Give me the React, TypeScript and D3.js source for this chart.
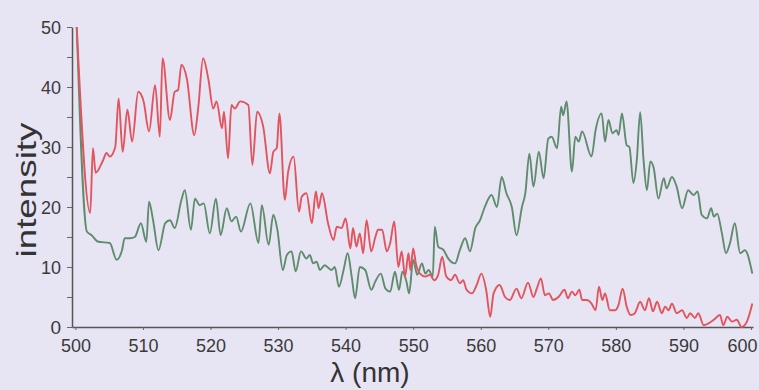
import React, { useEffect, useRef } from 'react';
import * as d3 from 'd3';

// emission spectra (wavelength in nm, intensity)
const redWavelength = [
  500.2, 502.2, 502.6, 503.0, 504.1, 504.6, 505.1, 505.9, 506.4, 507.0, 507.7, 508.4, 509.3, 510.1,
  510.9, 511.8, 512.5, 512.9, 514.0, 514.7, 515.2, 515.7, 516.5, 517.6, 518.2, 518.9, 519.7, 520.4,
  520.9, 521.7, 522.0, 522.6, 523.1, 523.6, 524.4, 525.6, 526.2, 526.9, 527.8, 528.8, 529.3, 529.8,
  530.2, 531.0, 531.5, 532.3, 533.1, 533.5, 534.2, 535.0, 535.6, 536.0, 536.5, 537.4, 538.2, 538.7,
  539.4, 540.0, 540.7, 541.1, 541.6, 542.1, 542.6, 543.1, 543.8, 544.4, 544.8, 545.4, 546.1, 546.6,
  547.2, 547.8, 548.3, 548.8, 549.3, 549.6, 550.0, 550.4, 551.0, 551.8, 552.5, 553.1, 553.7, 554.3,
  554.9, 555.6, 556.2, 556.9, 557.4, 557.9, 558.7, 559.4, 560.1, 560.8, 561.4, 561.9, 562.8, 563.6,
  564.3, 565.3, 566.0, 567.0, 567.8, 568.3, 568.9, 569.5, 570.1, 570.7, 571.5, 572.4, 572.9, 573.5,
  574.0, 574.6, 575.0, 575.7, 576.4, 577.0, 577.5, 578.0, 578.4, 579.1, 579.9, 580.4, 581.0, 581.6,
  582.2, 582.8, 583.6, 584.3, 584.9, 585.5, 586.1, 586.8, 587.3, 587.8, 588.3, 589.0, 589.8, 590.5,
  591.0, 591.7, 592.2, 593.0, 593.7, 594.5, 595.4, 595.9, 596.5, 597.2, 597.9, 598.6, 599.4, 600.2
];
const redIntensity = [
  50, 19, 29.8, 25.7, 27.8, 29, 28.4, 30, 38.1, 29.2, 36.2, 30.9, 39.2, 37.6,
  32.6, 40.3, 31.7, 44.8, 34.5, 39.2, 39.5, 43.7, 41.4, 32, 36.7, 44.8, 41.2, 36.4,
  37.6, 33.1, 35.9, 28.1, 37, 36.4, 37.6, 37, 27, 35.9, 33.4, 25.6, 29.2, 29.8,
  35.6, 21.2, 25.9, 28.4, 19.2, 21.7, 22.3, 17.3, 22.6, 19.8, 22.3, 17.3, 14.5, 16.7,
  16.5, 18.1, 13.1, 16.5, 13.4, 15.6, 12.3, 17.8, 12.6, 15, 16.2, 16.2, 12.6, 14,
  17.6, 10, 12.6, 8.4, 12.3, 9.5, 13.1, 10.6, 8.9, 8.4, 8.7, 7.8, 8.7, 11.7,
  8.4, 7.8, 8.7, 7.3, 7.8, 6.2, 5.6, 7, 8.9, 6.2, 1.7, 5.6, 7, 5,
  4.5, 6.4, 4.8, 7.4, 5, 6.4, 8.1, 5.3, 5.6, 4.5, 5, 6.2, 4.8, 5.9,
  5.3, 6.2, 4.5, 4.5, 3.9, 2.8, 6.7, 4.5, 5.6, 2.8, 2.8, 3.7, 6.4, 3.4,
  2, 2.3, 4.2, 2.8, 4.8, 2.6, 4.2, 2.3, 3.4, 2.8, 3.9, 2.3, 2.8, 1.5,
  2.3, 1.5, 2.3, 0.3, 0.6, 1.2, 2, 0.3, 1.7, 0.9, 1.2, 0, 0.9, 3.9
];

const greenWavelength = [
  500.2, 501.7, 502.4, 503.4, 505.1, 506.1, 506.9, 507.3, 508.1, 508.8, 509.7, 510.5, 510.9, 511.5,
  512.3, 513.3, 514.0, 514.7, 515.7, 516.2, 517.1, 517.7, 518.4, 519.0, 519.9, 520.8, 521.5, 522.4,
  523.1, 523.8, 524.5, 525.9, 527.1, 527.6, 528.6, 529.3, 529.9, 530.7, 531.3, 532.0, 532.6, 533.4,
  534.2, 534.7, 535.2, 535.7, 536.2, 536.9, 537.9, 538.4, 539.0, 539.7, 540.3, 540.9, 541.4, 542.1,
  542.9, 543.8, 544.4, 545.2, 545.9, 546.6, 547.3, 547.9, 548.4, 549.0, 549.4, 550.0, 550.6, 551.3,
  551.8, 552.3, 552.9, 553.2, 553.7, 554.5, 555.2, 556.2, 556.9, 557.7, 558.4, 559.2, 559.9, 560.6,
  561.6, 562.4, 563.1, 563.8, 564.6, 565.3, 566.1, 566.6, 567.2, 567.8, 568.6, 569.3, 570.0, 570.5,
  571.3, 571.9, 572.2, 572.7, 573.5, 574.0, 574.5, 575.0, 576.4, 577.0, 577.9, 578.4, 578.9, 579.5,
  580.1, 580.4, 580.9, 581.6, 582.0, 582.6, 583.1, 583.6, 584.1, 584.6, 585.1, 585.6, 586.3, 587.1,
  587.5, 588.3, 589.0, 589.8, 590.7, 591.5, 592.1, 592.7, 593.5, 594.1, 594.5, 595.0, 595.7, 596.3,
  596.9, 597.6, 598.4, 599.1, 600.2
];
const greenIntensity = [
  50, 15.9, 15.3, 14.2, 14, 11.2, 12.8, 14.8, 14.8, 15, 17.3, 14.2, 20.9, 17.8,
  12.8, 17.3, 17.8, 16.5, 21.2, 22.8, 16.2, 21.4, 20.3, 20.6, 15.6, 21.4, 15.3, 19.8,
  17.6, 18.4, 15.9, 20.6, 14, 20.3, 13.7, 18.7, 16.2, 9.5, 12, 12.6, 9.3, 12.6,
  11.4, 12, 10.6, 10.9, 9.5, 10.3, 9.5, 10, 6.7, 9.5, 12.3, 8.4, 4.8, 10,
  9.5, 6.2, 7.6, 8.9, 6.4, 5.9, 9.2, 6.2, 9.2, 7.6, 5.6, 11.2, 8.7, 10.6,
  8.9, 9.5, 8.4, 16.7, 13.4, 12.8, 11.4, 10.6, 12.8, 14.8, 12.6, 16.5, 17.8, 20,
  22, 20, 25, 22.3, 20, 15.3, 20, 22.3, 28.9, 23.4, 29.2, 24.8, 31.4, 31.7,
  29.8, 36.7, 35.3, 37.6, 25.9, 31.7, 30.9, 32.6, 28.4, 32.8, 35.6, 30.9, 34.5, 32.3,
  32.8, 32, 35.6, 30.3, 30, 24, 27.8, 35.8, 27.8, 22.8, 27.6, 26.5, 21.4, 24.8,
  23.1, 25, 23.4, 19.8, 22.8, 22, 22.6, 18.7, 18.1, 19.8, 18.4, 18.9, 15.6, 12.3,
  14, 17.3, 12.3, 12.8, 8.9
];

const xTicks = [500, 510, 520, 530, 540, 550, 560, 570, 580, 590, 600];
const yTicks = [0, 5, 10, 15, 20, 25, 30, 35, 40, 45, 50];

const W = 759;
const H = 390;

const SpectrumChart = () => {
  const svgRef = useRef<SVGSVGElement>(null);

  useEffect(() => {
    const svg = d3.select(svgRef.current);
    svg.selectAll('*').remove();

    const x = d3.scaleLinear().domain([499.5, 600.3]).range([72, 753]);
    const y = d3.scaleLinear().domain([0, 50]).range([327, 27]);

    svg.append('rect').attr('width', W).attr('height', H).attr('fill', '#e7e5f3');

    const font = '"Liberation Sans", Arial, sans-serif';

    // Y axis
    const yAxis = svg.append('g')
      .attr('transform', 'translate(72,0)')
      .call(d3.axisLeft(y).tickValues(yTicks).tickSize(5).tickSizeOuter(0).tickPadding(6)
        .tickFormat(d => (+d % 10 === 0 ? String(d) : '')));
    yAxis.select('.domain').attr('stroke', '#555').attr('stroke-width', 1.5);
    yAxis.selectAll('.tick line').attr('stroke', '#666');
    yAxis.selectAll('.tick text')
      .attr('font-family', font).attr('font-size', 19).attr('fill', '#3a3a3a')
      .attr('textLength', 20).attr('lengthAdjust', 'spacingAndGlyphs');
    yAxis.selectAll<SVGTextElement, number>('.tick text')
      .filter(d => d === 0)
      .attr('textLength', null);

    // X axis
    const xAxis = svg.append('g')
      .attr('transform', 'translate(0,327)')
      .call(d3.axisBottom(x).tickValues(xTicks).tickSize(3).tickSizeOuter(0).tickPadding(9)
        .tickFormat(d => String(d)));
    xAxis.select('.domain').attr('stroke', '#555').attr('stroke-width', 1.5);
    xAxis.selectAll('.tick line').attr('stroke', '#666');
    xAxis.selectAll('.tick text')
      .attr('font-family', font).attr('font-size', 19).attr('fill', '#3a3a3a')
      .attr('textLength', 30).attr('lengthAdjust', 'spacingAndGlyphs');
    // last label sits against the right edge
    xAxis.selectAll<SVGTextElement, number>('.tick text')
      .filter(d => d === 600)
      .attr('text-anchor', 'end')
      .attr('x', 6);

    const line = d3.line<[number, number]>()
      .x(d => x(d[0]))
      .y(d => y(d[1]))
      .curve(d3.curveMonotoneX);

    const red = redWavelength.map((w, i) => [w, redIntensity[i]] as [number, number]);
    const green = greenWavelength.map((w, i) => [w, greenIntensity[i]] as [number, number]);

    svg.append('path')
      .datum(green)
      .attr('d', line)
      .attr('fill', 'none')
      .attr('stroke', '#5e8c6c')
      .attr('stroke-width', 1.9)
      .attr('stroke-linejoin', 'round');

    svg.append('path')
      .datum(red)
      .attr('d', line)
      .attr('fill', 'none')
      .attr('stroke', '#e2545e')
      .attr('stroke-width', 1.9)
      .attr('stroke-linejoin', 'round');

    // axis titles
    svg.append('text')
      .attr('transform', 'translate(36,190) rotate(-90)')
      .attr('text-anchor', 'middle')
      .attr('font-family', font)
      .attr('font-size', 28)
      .attr('fill', '#333')
      .attr('textLength', 135)
      .attr('lengthAdjust', 'spacingAndGlyphs')
      .text('intensity');

    svg.append('text')
      .attr('x', 370)
      .attr('y', 382)
      .attr('text-anchor', 'middle')
      .attr('font-family', font)
      .attr('font-size', 28)
      .attr('fill', '#333')
      .text('λ (nm)');
  }, []);

  return <svg ref={svgRef} width={W} height={H} style={{ display: 'block' }} />;
};

export default function App() {
  return (
    <div style={{ position: 'fixed', left: 0, top: 0, width: W, height: H, background: '#e7e5f3' }}>
      <SpectrumChart />
    </div>
  );
}
